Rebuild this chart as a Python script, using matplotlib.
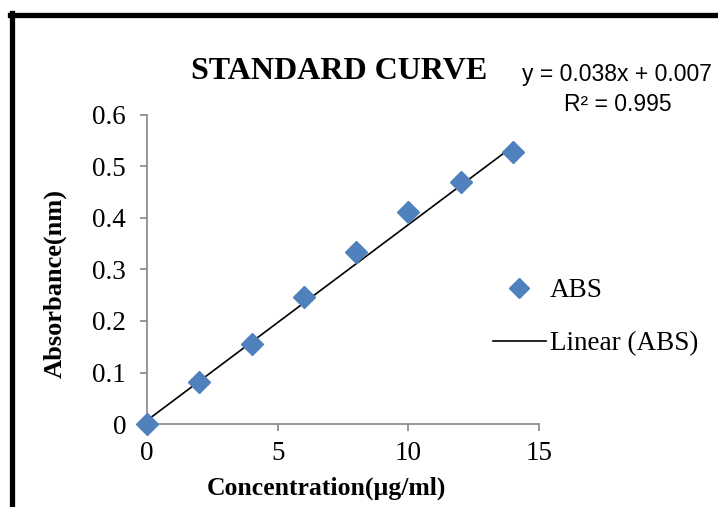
import numpy as np
import matplotlib.pyplot as plt
from matplotlib.lines import Line2D

# data
conc = [0, 2, 4, 6, 8, 10, 12, 14]
absb = [0.0, 0.082, 0.156, 0.246, 0.333, 0.412, 0.470, 0.529]
xticks = [0, 5, 10, 15]
yticks = [0, 0.1, 0.2, 0.3, 0.4, 0.5, 0.6]
ytick_labels = ['0', '0.1', '0.2', '0.3', '0.4', '0.5', '0.6']
slope, icept = 0.038, 0.007

blue = '#4F81BD'
grey = '#868686'
serif = 'Liberation Serif'

fig = plt.figure(figsize=(7.18, 5.07), dpi=100)
ax = fig.add_axes([0.2047, 0.1637, 0.546, 0.6095])

ax.plot(conc, absb, linestyle='none', marker='D', markersize=11,
        color=blue, label='ABS', zorder=3)
xl = np.array([conc[0], conc[-1]])
ax.plot(xl, slope * xl + icept, color='black', lw=1.2,
        label='Linear (ABS)', zorder=2)

ax.set_xlim(0, 15)
ax.set_ylim(0, 0.6)
ax.set_xticks(xticks)
ax.set_xticklabels([str(t) for t in xticks])
ax.set_yticks(yticks)
ax.set_yticklabels(ytick_labels)
for lab in ax.get_xticklabels() + ax.get_yticklabels():
    lab.set_fontfamily(serif)
    lab.set_fontsize(19.5)
ax.tick_params(axis='both', color=grey, length=5, width=1.2, direction='out')
ax.tick_params(axis='x', pad=7)
ax.tick_params(axis='y', pad=10)
for s in ['top', 'right']:
    ax.spines[s].set_visible(False)
for s in ['left', 'bottom']:
    ax.spines[s].set_color(grey)
    ax.spines[s].set_linewidth(1.2)
for m in ax.lines:
    m.set_clip_on(False)

# axis titles placed like the original
fig.text(0.454, 0.037, 'Concentration(µg/ml)', fontfamily=serif, fontsize=18.5,
         fontweight='bold', ha='center', va='center')
fig.text(0.077, 0.44, 'Absorbance(nm)', fontfamily=serif, fontsize=19,
         fontweight='bold', ha='center', va='center', rotation=90)

fig.text(0.472, 0.859, 'STANDARD CURVE', fontfamily=serif, fontsize=23,
         fontweight='bold', ha='center', va='center')
fig.text(0.859, 0.854, 'y = 0.038x + 0.007', fontfamily='Liberation Sans',
         fontsize=16.5, ha='center', va='center')
fig.text(0.861, 0.793, 'R² = 0.995', fontfamily='Liberation Sans',
         fontsize=16.5, ha='center', va='center')

handles = [Line2D([], [], linestyle='none', marker='D', markersize=10, color=blue),
           Line2D([], [], color='black', lw=1.2)]
leg = fig.legend(handles, ['ABS', 'Linear (ABS)'], loc='center left',
                 bbox_to_anchor=(0.6866, 0.374), frameon=False, borderpad=0,
                 borderaxespad=0, prop={'family': serif, 'size': 19.5},
                 handlelength=1.95, handletextpad=0.15, labelspacing=1.05)

# thick frame at top and left
fig.add_artist(Line2D([0.014, 1.0], [0.970, 0.970], color='black', lw=3.8,
                      transform=fig.transFigure))
fig.add_artist(Line2D([0.0167, 0.0167], [0.0, 0.974], color='black', lw=3.8,
                      transform=fig.transFigure))

fig.savefig('out.png', dpi=100)
